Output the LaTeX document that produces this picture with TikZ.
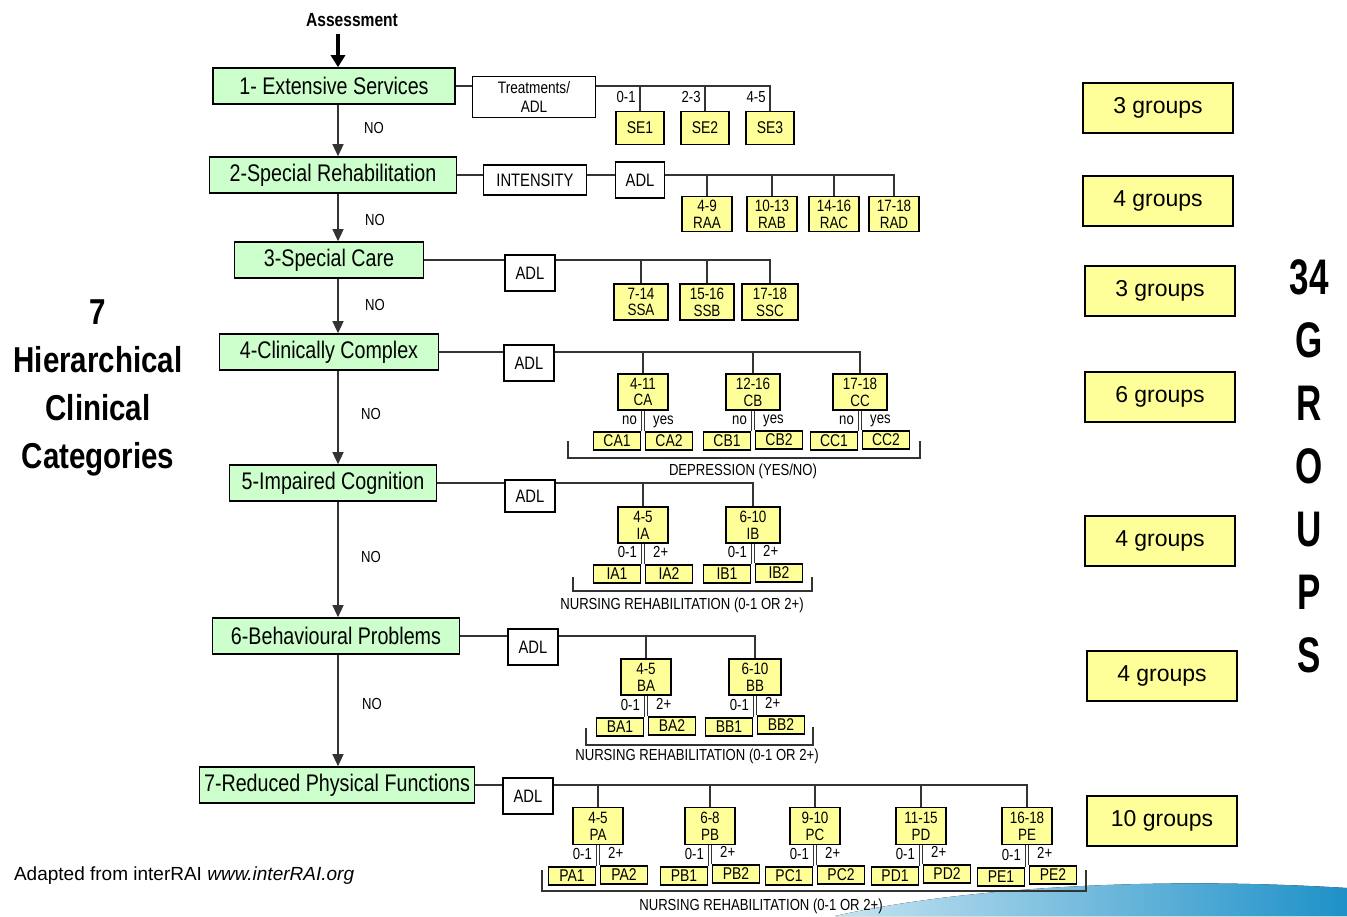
\documentclass[tikz,border=0pt]{standalone}
\usepackage{fontspec}
\setmainfont{Liberation Sans}
\newfontfamily\schmal[FakeStretch=0.82]{Liberation Sans}
\newfontfamily\eng[FakeStretch=0.7]{Liberation Sans}
\usepackage{tikz}
\usetikzlibrary{arrows.meta, positioning}
\definecolor{hellgruen}{RGB}{204,255,204}
\definecolor{hellgelb}{RGB}{255,255,153}
\definecolor{welle}{RGB}{30,145,200}

\tikzset{
  haupt/.style={draw, line width=0.8pt, fill=hellgruen, inner xsep=2pt, minimum height=18pt,
    font=\schmal\fontsize{12}{14}\selectfont},
  kriterium/.style={draw, line width=0.7pt, fill=white, minimum width=25pt, minimum height=18pt,
    inner sep=1pt, align=center, font=\schmal\fontsize{9}{10}\selectfont},
  gruppe/.style={draw, line width=0.7pt, fill=hellgelb, minimum width=25pt, minimum height=17.5pt,
    inner sep=0pt, align=center, font=\schmal\fontsize{8.2}{8.4}\selectfont},
  klasse/.style={draw, line width=0.7pt, fill=hellgelb, minimum width=23.5pt, minimum height=9pt,
    inner sep=0pt, font=\schmal\fontsize{8.5}{8.5}\selectfont},
  anzahl/.style={draw, line width=0.7pt, fill=hellgelb, minimum width=75pt, minimum height=25pt,
    font=\fontsize{11.5}{13}\selectfont},
  lab/.style={inner sep=1pt, font=\schmal\fontsize{8}{9}\selectfont},
  nein/.style={inner sep=1pt, font=\schmal\fontsize{8}{9}\selectfont},
  linie/.style={line width=0.6pt, black!80},
  pfeil/.style={linie, -{Triangle[length=6pt,width=5.5pt]}},
}

\begin{document}
\begin{tikzpicture}[x=0.5pt,y=-0.5pt]
  \useasboundingbox (0,0) rectangle (1347,916);
  \fill[left color=welle!25, right color=welle] (835,916) .. controls (960,888) and (1150,876) .. (1347,888)
    -- (1347,916) -- cycle;                                     % Welle

  % Hauptkategorien
  \node[font=\schmal\bfseries\fontsize{9.5}{11}\selectfont] (assess) at (352,20) {Assessment};
  \node[haupt, minimum width=121pt]   (m1) at (334,86)  {1- Extensive Services};
  \node[haupt, minimum width=123.5pt] (m2) at (333,175) {2-Special Rehabilitation};
  \node[haupt, minimum width=94.5pt]  (m3) at (329,260) {3-Special Care};
  \node[haupt, minimum width=109.5pt] (m4) at (329,352) {4-Clinically Complex};
  \node[haupt, minimum width=103.5pt] (m5) at (333,483) {5-Impaired Cognition};
  \node[haupt, minimum width=123.5pt] (m6) at (336,636) {6-Behavioural Problems};
  \node[haupt, minimum width=137.5pt] (m7) at (337,785) {7-Reduced Physical Functions};
  \coordinate (achse) at (338,0);
  \draw[line width=1.6pt, -{Triangle[length=6pt,width=7pt]}] (assess.south -| achse) -- (m1.north -| achse);
  \draw[pfeil] (m1.south -| achse) -- (m2.north -| achse);
  \draw[pfeil] (m2.south -| achse) -- (m3.north -| achse);
  \draw[pfeil] (m3.south -| achse) -- (m4.north -| achse);
  \draw[pfeil] (m4.south -| achse) -- (m5.north -| achse);
  \draw[pfeil] (m5.south -| achse) -- (m6.north -| achse);
  \draw[pfeil] (m6.south -| achse) -- (m7.north -| achse);
  \node[nein] (no1) at (374,128) {NO};
  \node[nein] (no2) at (375,220) {NO};
  \node[nein] (no3) at (375,305) {NO};
  \node[nein] (no4) at (371,414) {NO};
  \node[nein] (no5) at (371,557) {NO};
  \node[nein] (no6) at (372,704) {NO};

  % 1 Extensive Services
  \node[kriterium, minimum width=61.5pt, minimum height=20.5pt, font=\schmal\fontsize{8.3}{9.3}\selectfont] (t1) at (534,97) {Treatments/\\ADL};
  \node[gruppe, minimum width=24pt, minimum height=16.5pt, font=\schmal\fontsize{8.5}{9}\selectfont] (se1) at (640,128) {SE1};
  \node[gruppe, minimum width=24pt, minimum height=16.5pt, font=\schmal\fontsize{8.5}{9}\selectfont] (se2) at (705,128) {SE2};
  \node[gruppe, minimum width=24pt, minimum height=16.5pt, font=\schmal\fontsize{8.5}{9}\selectfont] (se3) at (770,128) {SE3};
  \draw[linie] (m1.east) -- (m1.east -| t1.west);
  \draw[linie] (t1.east |- m1.east) -| (se3.north);
  \draw[linie] (se1.north) -- (se1.north |- m1.east);
  \draw[linie] (se2.north) -- (se2.north |- m1.east);
  \node[lab, anchor=base east] at ([xshift=-1pt,yshift=4pt]se1.north) {0-1};
  \node[lab, anchor=base east] at ([xshift=-1pt,yshift=4pt]se2.north) {2-3};
  \node[lab, anchor=base east] at ([xshift=-1pt,yshift=4pt]se3.north) {4-5};

  % 2 Special Rehabilitation
  \node[kriterium, minimum width=51.5pt, minimum height=15pt] (int) at (535,180) {INTENSITY};
  \node[kriterium, minimum width=24.5pt] (a2) at (640,180) {ADL};
  \node[gruppe] (raa) at (707,214) {4-9\\RAA};
  \node[gruppe] (rab) at (772,214) {10-13\\RAB};
  \node[gruppe] (rac) at (834,214) {14-16\\RAC};
  \node[gruppe] (rad) at (894,214) {17-18\\RAD};
  \draw[linie] (m2.east) -- (m2.east -| int.west);
  \draw[linie] (int.east |- m2.east) -- (m2.east -| a2.west);
  \draw[linie] (a2.east |- m2.east) -| (rad.north);
  \draw[linie] (raa.north) -- (raa.north |- m2.east);
  \draw[linie] (rab.north) -- (rab.north |- m2.east);
  \draw[linie] (rac.north) -- (rac.north |- m2.east);

  % 3 Special Care
  \node[kriterium] (a3) at (530,273) {ADL};
  \node[gruppe, minimum width=27pt, minimum height=18pt] (ssa) at (641,302) {7-14\\SSA};
  \node[gruppe, minimum width=27pt, minimum height=18pt] (ssb) at (707,302) {15-16\\SSB};
  \node[gruppe, minimum width=28pt, minimum height=18pt] (ssc) at (770,302) {17-18\\SSC};
  \draw[linie] (m3.east) -- (m3.east -| a3.west);
  \draw[linie] (a3.east |- m3.east) -| (ssc.north);
  \draw[linie] (ssa.north) -- (ssa.north |- m3.east);
  \draw[linie] (ssb.north) -- (ssb.north |- m3.east);

  % 4 Clinically Complex
  \node[kriterium] (a4) at (529,363) {ADL};
  \node[gruppe, minimum height=18pt] (ca) at (643,392) {4-11\\CA};
  \node[gruppe, minimum width=27pt, minimum height=18pt] (cb) at (753,392) {12-16\\CB};
  \node[gruppe, minimum width=27pt, minimum height=18pt] (cc) at (860,392) {17-18\\CC};
  \draw[linie] (m4.east) -- (m4.east -| a4.west);
  \draw[linie] (a4.east |- m4.east) -| (cc.north);
  \draw[linie] (ca.north) -- (ca.north |- m4.east);
  \draw[linie] (cb.north) -- (cb.north |- m4.east);
  \node[klasse] (ca1) at (617,441) {CA1};
  \node[klasse] (ca2) at (669,441) {CA2};
  \node[klasse] (cb1) at (727,441) {CB1};
  \node[klasse] (cb2) at (779,440) {CB2};
  \node[klasse] (cc1) at (834,441) {CC1};
  \node[klasse] (cc2) at (886,440) {CC2};
  \draw[linie] (ca1.north east) -- (ca1.north east |- ca.south);
  \draw[linie] (ca2.north west) -- (ca2.north west |- ca.south);
  \draw[linie] (cb1.north east) -- (cb1.north east |- cb.south);
  \draw[linie] (cb2.north west) -- (cb2.north west |- cb.south);
  \draw[linie] (cc1.north east) -- (cc1.north east |- cc.south);
  \draw[linie] (cc2.north west) -- (cc2.north west |- cc.south);
  \node[lab, anchor=base east] at ([xshift=-1pt,yshift=3.5pt]ca1.north east) {no};
  \node[lab, anchor=base west] at ([xshift=3pt,yshift=3.5pt]ca2.north west) {yes};
  \node[lab, anchor=base east] at ([xshift=-1pt,yshift=3.5pt]cb1.north east) {no};
  \node[lab, anchor=base west] at ([xshift=3pt,yshift=3.5pt]cb2.north west) {yes};
  \node[lab, anchor=base east] at ([xshift=-1pt,yshift=3.5pt]cc1.north east) {no};
  \node[lab, anchor=base west] at ([xshift=3pt,yshift=3.5pt]cc2.north west) {yes};
  \draw[linie] (568,441) -- (568,458) -- (920,458) -- (920,441);   % Klammer
  \node[lab, font=\schmal\fontsize{8}{9}\selectfont] (depr) at (743,471) {DEPRESSION (YES/NO)};

  % 5 Impaired Cognition
  \node[kriterium, minimum height=16pt] (a5) at (530,496) {ADL};
  \node[gruppe, minimum height=18pt] (ia) at (643,525) {4-5\\IA};
  \node[gruppe, minimum width=27pt, minimum height=18pt] (ib) at (753,525) {6-10\\IB};
  \draw[linie] (m5.east) -- (m5.east -| a5.west);
  \draw[linie] (a5.east |- m5.east) -| (ib.north);
  \draw[linie] (ia.north) -- (ia.north |- m5.east);
  \node[klasse] (ia1) at (617,574) {IA1};
  \node[klasse] (ia2) at (669,574) {IA2};
  \node[klasse] (ib1) at (727,574) {IB1};
  \node[klasse] (ib2) at (779,573) {IB2};
  \draw[linie] (ia1.north east) -- (ia1.north east |- ia.south);
  \draw[linie] (ia2.north west) -- (ia2.north west |- ia.south);
  \draw[linie] (ib1.north east) -- (ib1.north east |- ib.south);
  \draw[linie] (ib2.north west) -- (ib2.north west |- ib.south);
  \node[lab, anchor=base east] at ([xshift=-1pt,yshift=3.5pt]ia1.north east) {0-1};
  \node[lab, anchor=base west] at ([xshift=3pt,yshift=3.5pt]ia2.north west) {2+};
  \node[lab, anchor=base east] at ([xshift=-1pt,yshift=3.5pt]ib1.north east) {0-1};
  \node[lab, anchor=base west] at ([xshift=3pt,yshift=3.5pt]ib2.north west) {2+};
  \draw[linie] (573,577) -- (573,591) -- (812,591) -- (812,577);   % Klammer
  \node[lab, font=\schmal\fontsize{8}{9}\selectfont] (nr5) at (682,605) {NURSING REHABILITATION (0-1 OR 2+)};

  % 6 Behavioural Problems
  \node[kriterium] (a6) at (533,647) {ADL};
  \node[gruppe, minimum height=18pt] (ba) at (646,677) {4-5\\BA};
  \node[gruppe, minimum width=26pt, minimum height=18pt] (bb) at (755,677) {6-10\\BB};
  \draw[linie] (m6.east) -- (m6.east -| a6.west);
  \draw[linie] (a6.east |- m6.east) -| (bb.north);
  \draw[linie] (ba.north) -- (ba.north |- m6.east);
  \node[klasse] (ba1) at (620,727) {BA1};
  \node[klasse] (ba2) at (672,726) {BA2};
  \node[klasse] (bb1) at (729,727) {BB1};
  \node[klasse] (bb2) at (781,725) {BB2};
  \draw[linie] (ba1.north east) -- (ba1.north east |- ba.south);
  \draw[linie] (ba2.north west) -- (ba2.north west |- ba.south);
  \draw[linie] (bb1.north east) -- (bb1.north east |- bb.south);
  \draw[linie] (bb2.north west) -- (bb2.north west |- bb.south);
  \node[lab, anchor=base east] at ([xshift=-1pt,yshift=3.5pt]ba1.north east) {0-1};
  \node[lab, anchor=base west] at ([xshift=3pt,yshift=3.5pt]ba2.north west) {2+};
  \node[lab, anchor=base east] at ([xshift=-1pt,yshift=3.5pt]bb1.north east) {0-1};
  \node[lab, anchor=base west] at ([xshift=3pt,yshift=3.5pt]bb2.north west) {2+};
  \draw[linie] (586,728) -- (586,745) -- (813,745) -- (813,727);   % Klammer
  \node[lab, font=\schmal\fontsize{8}{9}\selectfont] (nr6) at (697,756) {NURSING REHABILITATION (0-1 OR 2+)};

  % 7 Reduced Physical Functions
  \node[kriterium] (a7) at (528,796) {ADL};
  \node[gruppe, minimum height=18.5pt] (pa) at (598,826) {4-5\\PA};
  \node[gruppe, minimum height=18.5pt] (pb) at (710,826) {6-8\\PB};
  \node[gruppe, minimum height=18.5pt] (pc) at (815,826) {9-10\\PC};
  \node[gruppe, minimum height=18.5pt] (pd) at (921,826) {11-15\\PD};
  \node[gruppe, minimum height=18.5pt] (pe) at (1027,826) {16-18\\PE};
  \draw[linie] (m7.east) -- (m7.east -| a7.west);
  \draw[linie] (a7.east |- m7.east) -| (pe.north);
  \draw[linie] (pa.north) -- (pa.north |- m7.east);
  \draw[linie] (pb.north) -- (pb.north |- m7.east);
  \draw[linie] (pc.north) -- (pc.north |- m7.east);
  \draw[linie] (pd.north) -- (pd.north |- m7.east);
  \node[klasse] (pa1) at (572,876) {PA1};
  \node[klasse] (pa2) at (624,875) {PA2};
  \node[klasse] (pb1) at (684,876) {PB1};
  \node[klasse] (pb2) at (736,874) {PB2};
  \node[klasse] (pc1) at (789,876) {PC1};
  \node[klasse] (pc2) at (841,875) {PC2};
  \node[klasse] (pd1) at (895,876) {PD1};
  \node[klasse] (pd2) at (947,874) {PD2};
  \node[klasse] (pe1) at (1001,877) {PE1};
  \node[klasse] (pe2) at (1053,875) {PE2};
  \draw[linie] (pa1.north east) -- (pa1.north east |- pa.south);
  \draw[linie] (pa2.north west) -- (pa2.north west |- pa.south);
  \draw[linie] (pb1.north east) -- (pb1.north east |- pb.south);
  \draw[linie] (pb2.north west) -- (pb2.north west |- pb.south);
  \draw[linie] (pc1.north east) -- (pc1.north east |- pc.south);
  \draw[linie] (pc2.north west) -- (pc2.north west |- pc.south);
  \draw[linie] (pd1.north east) -- (pd1.north east |- pd.south);
  \draw[linie] (pd2.north west) -- (pd2.north west |- pd.south);
  \draw[linie] (pe1.north east) -- (pe1.north east |- pe.south);
  \draw[linie] (pe2.north west) -- (pe2.north west |- pe.south);
  \node[lab, anchor=base east] at ([xshift=-1pt,yshift=3.5pt]pa1.north east) {0-1};
  \node[lab, anchor=base west] at ([xshift=3pt,yshift=3.5pt]pa2.north west) {2+};
  \node[lab, anchor=base east] at ([xshift=-1pt,yshift=3.5pt]pb1.north east) {0-1};
  \node[lab, anchor=base west] at ([xshift=3pt,yshift=3.5pt]pb2.north west) {2+};
  \node[lab, anchor=base east] at ([xshift=-1pt,yshift=3.5pt]pc1.north east) {0-1};
  \node[lab, anchor=base west] at ([xshift=3pt,yshift=3.5pt]pc2.north west) {2+};
  \node[lab, anchor=base east] at ([xshift=-1pt,yshift=3.5pt]pd1.north east) {0-1};
  \node[lab, anchor=base west] at ([xshift=3pt,yshift=3.5pt]pd2.north west) {2+};
  \node[lab, anchor=base east] at ([xshift=-1pt,yshift=3.5pt]pe1.north east) {0-1};
  \node[lab, anchor=base west] at ([xshift=3pt,yshift=3.5pt]pe2.north west) {2+};
  \draw[linie] (542,870) -- (542,891) -- (1086,891) -- (1086,870);   % Klammer
  \node[lab, font=\schmal\fontsize{8}{9}\selectfont] (nr7) at (761,906) {NURSING REHABILITATION (0-1 OR 2+)};

  % Anzahl Gruppen
  \node[anzahl] (g1) at (1158,108) {3 groups};
  \node[anzahl] (g2) at (1158,201) {4 groups};
  \node[anzahl] (g3) at (1160,291) {3 groups};
  \node[anzahl] (g4) at (1160,397) {6 groups};
  \node[anzahl] (g5) at (1160,541) {4 groups};
  \node[anzahl] (g6) at (1162,676) {4 groups};
  \node[anzahl] (g7) at (1162,821) {10 groups};

  \node[align=center, font=\schmal\bfseries\fontsize{18}{24}\selectfont] (kat) at (98,388)
    {7\\Hierarchical\\Clinical\\Categories};
  \node[align=center, font=\eng\bfseries\fontsize{25}{31.5}\selectfont] (summe) at (1309,466)
    {34\\G\\R\\O\\U\\P\\S};
  \node[anchor=west, font=\fontsize{9.5}{11}\selectfont] (quelle) at (7,876)
    {Adapted from interRAI \textit{www.interRAI.org}};
\end{tikzpicture}
\end{document}
